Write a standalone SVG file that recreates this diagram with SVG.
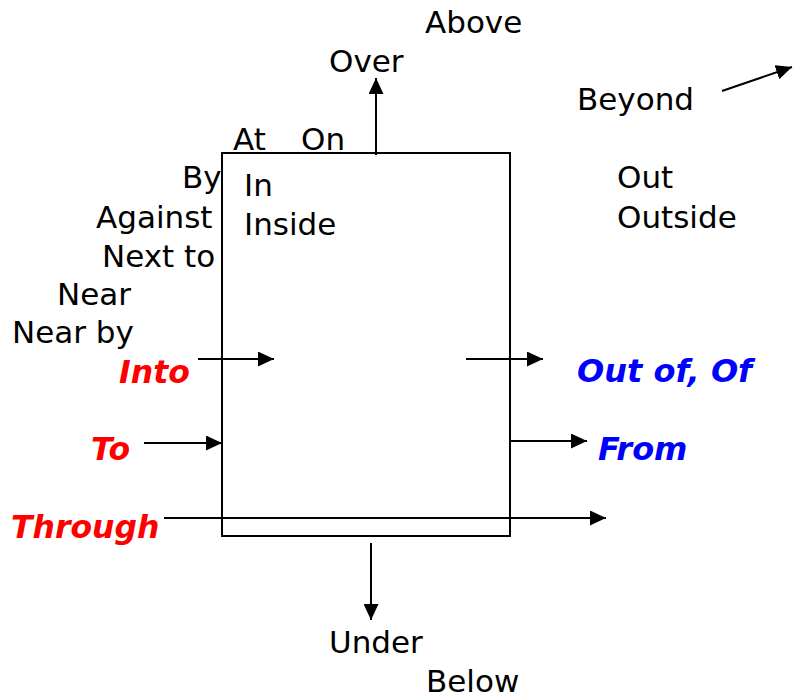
<svg xmlns="http://www.w3.org/2000/svg" width="795" height="699" viewBox="0 0 795 699">
<style>
text{font-family:"DejaVu Sans","Verdana",sans-serif;font-size:31px;fill:#000}
.r{fill:#ff0000;font-weight:bold;font-style:italic;font-size:31.5px}
.b{fill:#0000ff;font-weight:bold;font-style:italic;font-size:32px}
.c{stroke:#000;stroke-width:2;fill:none}
</style>
<defs>
<marker id="ah" markerUnits="userSpaceOnUse" markerWidth="16" markerHeight="15" refX="16" refY="7.5" orient="auto">
<path d="M0,0 L16,7.5 L0,15 z" fill="#000"/>
</marker>
</defs>
<rect width="795" height="699" fill="#fff"/>
<g id="box"><rect x="222" y="153" width="288" height="383" fill="none" stroke="#000" stroke-width="2"/></g>
<g id="connectors" class="c">
<line x1="376" y1="155" x2="376" y2="78" marker-end="url(#ah)"/>
<line x1="722" y1="91" x2="792" y2="67" marker-end="url(#ah)"/>
<line x1="198" y1="359" x2="274" y2="359" marker-end="url(#ah)"/>
<line x1="144" y1="443" x2="222" y2="443" marker-end="url(#ah)"/>
<line x1="164" y1="518" x2="606" y2="518" marker-end="url(#ah)"/>
<line x1="466" y1="359" x2="543" y2="359" marker-end="url(#ah)"/>
<line x1="510" y1="441" x2="587" y2="441" marker-end="url(#ah)"/>
<line x1="371" y1="543" x2="371" y2="620" marker-end="url(#ah)"/>
</g>
<g id="labels">
<text x="425" y="33">Above</text>
<text x="329" y="72">Over</text>
<text x="577" y="110">Beyond</text>
<text x="233" y="150">At</text>
<text x="301" y="150">On</text>
<text x="182" y="188">By</text>
<text x="244" y="196">In</text>
<text x="244" y="235">Inside</text>
<text x="96" y="228">Against</text>
<text x="102" y="267">Next to</text>
<text x="57" y="305">Near</text>
<text x="12" y="343">Near by</text>
<text x="617" y="188">Out</text>
<text x="617" y="228">Outside</text>
<text class="r" x="119" y="383">Into</text>
<text class="r" x="91" y="460">To</text>
<text class="r" x="11" y="538">Through</text>
<text class="b" x="577" y="382">Out of, Of</text>
<text class="b" x="598" y="460">From</text>
<text x="329" y="653">Under</text>
<text x="426" y="692">Below</text>
</g>
</svg>
